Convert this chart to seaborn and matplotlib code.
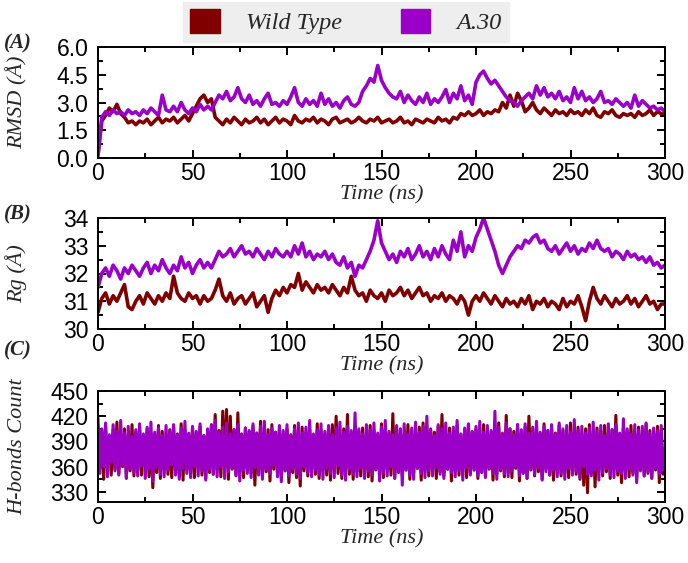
import numpy as np
import pandas as pd
import matplotlib
matplotlib.use("Agg")
import matplotlib.pyplot as plt
import seaborn as sns
from matplotlib.patches import Patch
from matplotlib.ticker import MultipleLocator, FormatStrFormatter

# ---------------- data ----------------
series_names = ["Wild Type", "A.30"]
colors = ["#800000", "#9b00c9"]

time_2ns = list(range(0, 301, 2))
time_1ns = list(range(0, 301, 1))

rmsd_wt = [
    0.2, 2.0, 2.3, 2.7, 2.5, 2.9, 2.4, 2.2, 1.9, 2.0,
    1.8, 2.0, 1.9, 2.1, 1.8, 2.0, 2.2, 1.9, 2.1, 2.0,
    2.2, 1.9, 2.1, 2.3, 2.0, 2.4, 2.8, 3.2, 3.4, 3.0,
    3.2, 2.2, 2.0, 1.8, 2.1, 1.9, 2.2, 2.0, 1.8, 2.1,
    1.9, 2.0, 2.2, 1.9, 2.1, 1.8, 2.0, 2.2, 1.9, 2.1,
    2.0, 1.8, 2.3, 2.0, 1.9, 2.1, 2.0, 2.2, 1.9, 2.1,
    2.0, 1.8, 2.1, 2.2, 1.9, 2.0, 2.1, 1.9, 2.0, 2.2,
    2.0, 1.9, 2.1, 2.0, 2.2, 1.9, 2.0, 2.1, 1.9, 2.0,
    2.2, 1.9, 2.0, 1.8, 2.1, 2.0, 1.9, 2.1, 2.0, 1.9,
    2.2, 2.0, 2.1, 1.9, 2.2, 2.1, 2.4, 2.3, 2.5, 2.3,
    2.4, 2.6, 2.3, 2.5, 2.4, 2.6, 2.5, 3.0, 2.7, 3.4,
    2.8, 3.5, 3.1, 2.5, 2.7, 3.0, 2.6, 2.4, 2.7, 2.5,
    2.3, 2.6, 2.4, 2.5, 2.3, 2.6, 2.4, 2.5, 2.3, 2.6,
    2.4, 2.7, 2.3, 2.2, 2.5, 2.4, 2.6, 2.3, 2.2, 2.4,
    2.3, 2.4, 2.2, 2.5, 2.3, 2.4, 2.6, 2.3, 2.5, 2.4,
    2.4,
]
rmsd_a30 = [
    0.1, 2.2, 2.5, 2.3, 2.6, 2.4, 2.5, 2.3, 2.6, 2.4,
    2.5, 2.3, 2.6, 2.4, 2.7, 2.5, 2.3, 3.4, 2.6, 2.5,
    2.8, 2.5, 3.0, 2.6, 2.4, 2.7, 2.5, 2.9, 2.6, 2.8,
    2.6, 3.0, 3.4, 3.2, 3.6, 3.1, 3.3, 3.8, 3.2, 3.0,
    3.4, 2.9, 3.1, 2.8, 3.2, 3.5, 2.9, 3.0, 2.8, 3.1,
    2.9, 3.3, 3.8, 3.0, 2.8, 3.2, 2.9, 3.1, 2.8, 3.5,
    2.9, 3.2, 2.8, 3.0, 2.7, 3.1, 3.3, 2.9, 2.8, 3.0,
    3.6, 3.9, 4.3, 4.1, 5.0, 4.2, 3.8, 3.5, 3.3, 3.2,
    3.6, 3.0, 3.4, 3.1, 2.9, 3.3, 3.0, 3.5, 2.9, 3.2,
    3.0, 3.3, 3.7, 3.0, 3.5, 3.2, 3.9, 3.1, 3.4, 2.9,
    4.1, 4.5, 4.7, 4.3, 4.0, 4.2, 3.9, 3.6, 3.3, 3.1,
    3.0, 2.8, 3.1, 3.3, 3.5, 3.2, 3.9, 3.4, 3.8, 3.3,
    3.5, 3.2, 3.6, 3.1, 3.3, 3.0, 3.8, 3.2, 3.6, 3.1,
    3.3, 3.0, 3.2, 3.6, 3.0, 3.1, 2.9, 3.2, 3.0, 2.8,
    3.0, 2.7, 3.4, 2.8, 3.1, 2.9, 2.7, 2.8, 2.6, 2.7,
    2.5,
]

rg_wt = [
    30.6, 31.1, 31.3, 30.9, 31.2, 31.0, 31.3, 31.6, 30.8, 30.7,
    31.0, 31.2, 30.9, 31.3, 31.1, 30.9, 31.2, 31.0, 31.3, 31.1,
    31.9, 31.3, 31.1, 31.0, 31.3, 31.1, 31.2, 30.9, 31.2, 31.0,
    31.1, 31.4, 31.8, 31.2, 31.0, 31.3, 30.9, 31.1, 31.2, 30.9,
    31.1, 31.3, 30.8, 31.0, 31.2, 30.6, 31.1, 31.4, 31.2, 31.5,
    31.3, 31.6, 31.5, 32.0, 31.4, 31.7, 31.5, 31.3, 31.6, 31.4,
    31.5, 31.3, 31.6, 31.4, 31.2, 31.5, 31.3, 31.9, 31.4, 31.2,
    31.3, 31.0, 31.4, 31.2, 31.1, 31.3, 31.0, 31.4, 31.2, 31.3,
    31.5, 31.2, 31.4, 31.1, 31.3, 31.5, 31.2, 31.3, 31.0, 31.2,
    31.1, 31.3, 31.0, 31.2, 31.1, 30.9, 31.2, 31.0, 30.5, 31.0,
    31.2, 31.0, 31.3, 31.1, 30.9, 31.2, 31.0, 30.8, 31.1, 30.9,
    31.0, 30.8, 31.1, 30.9, 31.2, 30.7, 31.0, 30.9, 31.1, 30.8,
    31.0, 30.9, 30.7, 31.1, 30.8, 31.0, 30.9, 31.2, 30.8, 30.3,
    31.0, 31.5, 31.1, 30.9, 31.2, 31.0, 30.8, 31.1, 30.9, 31.0,
    31.2, 30.9, 31.1, 30.8, 31.0, 31.2, 30.9, 31.0, 30.7, 30.9,
    30.9,
]
rg_a30 = [
    31.5, 32.0, 32.2, 31.9, 32.3, 32.1, 31.8, 32.2, 32.0, 32.3,
    32.1, 31.9, 32.2, 32.4, 32.0, 32.3, 32.1, 32.5, 32.2, 32.0,
    32.3, 32.1, 32.6, 32.2, 32.4, 32.0, 32.3, 32.5, 32.2, 32.4,
    32.2, 32.5, 32.8, 32.6, 32.7, 32.9, 32.6, 32.8, 33.0, 32.7,
    32.8, 32.6, 32.9, 32.7, 32.5, 32.8, 32.6, 32.9, 32.7, 32.6,
    32.8, 32.6, 33.0, 32.7, 33.1, 32.6, 32.8, 32.5, 32.7, 32.6,
    32.8, 32.5, 32.7, 32.4, 32.3, 32.6, 32.2, 32.4, 31.9, 32.3,
    32.2, 32.5, 32.8, 33.2, 33.9, 33.1, 32.8, 32.5, 32.7, 32.4,
    32.8, 32.6, 32.9, 32.5, 32.7, 33.0, 32.6, 32.8, 32.5, 32.9,
    32.6, 33.0, 32.7, 32.5, 33.2, 32.8, 33.5, 32.6, 33.0, 32.8,
    33.3, 33.6, 34.0, 33.6, 33.2, 32.8, 32.3, 32.0, 32.3, 32.6,
    32.8, 33.0, 32.9, 33.2, 33.1, 33.3, 33.4, 33.1, 33.2, 32.9,
    32.8, 33.0, 32.7, 32.9, 33.1, 32.8, 33.0, 32.7, 32.9, 32.8,
    33.1, 32.9, 33.2, 32.9, 32.8, 32.9, 32.6, 32.8, 32.7, 32.5,
    32.8, 32.6, 32.7, 32.5, 32.6, 32.4, 32.6, 32.3, 32.4, 32.2,
    32.3,
]

hb_wt = [
    410, 358, 402, 345, 408, 362, 396, 350, 404, 357, 413, 352, 399, 360, 405, 346, 398, 355, 410, 349,
    401, 356, 407, 350, 397, 361, 405, 348, 400, 335, 398, 353, 409, 346, 402, 358, 396, 351, 404, 347,
    407, 355, 399, 349, 411, 344, 403, 357, 398, 352, 406, 347, 400, 359, 408, 350, 397, 346, 404, 353,
    410, 351, 422, 356, 403, 348, 426, 359, 428, 345, 420, 357, 404, 350, 424, 354, 399, 347, 406, 358,
    402, 352, 408, 338, 400, 356, 414, 349, 397, 354, 404, 343, 410, 357, 401, 350, 406, 346, 399, 355,
    405, 341, 398, 353, 409, 347, 402, 337, 407, 355, 400, 349, 404, 358, 396, 351, 411, 346, 403, 356,
    399, 350, 406, 344, 410, 357, 420, 352, 400, 346, 405, 356, 422, 351, 398, 345, 408, 354, 402, 349,
    406, 355, 400, 348, 409, 343, 402, 356, 398, 351, 411, 347, 404, 357, 400, 350, 423, 346, 399, 353,
    405, 349, 398, 356, 410, 345, 403, 352, 400, 358, 407, 344, 412, 355, 399, 349, 405, 357, 401, 346,
    408, 354, 422, 349, 400, 357, 406, 343, 402, 355, 409, 350, 398, 358, 404, 347, 410, 352, 401, 356,
    405, 346, 399, 353, 410, 349, 403, 357, 400, 344, 407, 351, 412, 355, 398, 348, 421, 353, 405, 347,
    402, 358, 410, 343, 400, 352, 407, 346, 420, 356, 401, 349, 405, 354, 399, 345, 411, 357, 403, 350,
    406, 344, 400, 355, 409, 349, 403, 353, 398, 347, 412, 356, 401, 351, 407, 345, 400, 338, 405, 329,
    410, 352, 398, 336, 406, 356, 402, 349, 409, 354, 400, 346, 404, 357, 421, 350, 399, 341, 406, 355,
    402, 348, 409, 353, 400, 344, 407, 358, 398, 349, 411, 352, 403, 346, 400, 356, 408, 341, 404, 351,
    378,
]
hb_a30 = [
    418, 352, 405, 360, 412, 348, 398, 365, 410, 355, 402, 350, 415, 362, 400, 347, 408, 358, 396, 353,
    404, 349, 411, 361, 399, 346, 407, 357, 413, 343, 401, 359, 406, 351, 397, 348, 409, 356, 403, 362,
    410, 350, 398, 345, 406, 358, 414, 352, 400, 347, 408, 360, 402, 349, 411, 355, 397, 344, 405, 357,
    409, 351, 415, 348, 401, 360, 407, 346, 412, 354, 399, 358, 404, 349, 410, 343, 398, 356, 406, 352,
    403, 347, 411, 359, 400, 350, 408, 345, 414, 357, 398, 352, 406, 361, 401, 348, 409, 342, 403, 355,
    410, 349, 397, 357, 405, 351, 412, 346, 400, 360, 407, 353, 415, 348, 399, 356, 404, 350, 411, 345,
    402, 358, 409, 352, 398, 347, 406, 361, 413, 350, 401, 344, 408, 357, 403, 351, 424, 348, 405, 359,
    399, 346, 410, 355, 404, 350, 412, 357, 400, 343, 407, 353, 415, 349, 402, 360, 398, 347, 409, 354,
    404, 338, 411, 356, 399, 350, 406, 345, 413, 358, 401, 352, 408, 347, 420, 355, 403, 349, 397, 359,
    410, 351, 405, 346, 412, 357, 400, 353, 407, 348, 415, 355, 399, 344, 406, 359, 411, 350, 402, 356,
    408, 349, 414, 354, 401, 347, 409, 358, 403, 352, 426, 345, 407, 357, 400, 351, 412, 348, 405, 355,
    398, 360, 410, 349, 404, 353, 411, 346, 400, 357, 407, 351, 414, 359, 401, 344, 408, 354, 403, 350,
    410, 356, 399, 348, 412, 352, 405, 345, 409, 358, 401, 350, 416, 354, 403, 347, 408, 360, 400, 351,
    406, 349, 413, 356, 402, 344, 409, 353, 397, 358, 411, 350, 404, 347, 410, 355, 400, 352, 417, 346,
    405, 357, 399, 350, 410, 341, 403, 355, 408, 349, 412, 354, 400, 347, 406, 358, 402, 351, 409, 356,
    382,
]

# ---------------- style ----------------
sns.set_style("ticks")
plt.rcParams["font.family"] = ["Liberation Sans", "DejaVu Sans"]
plt.rcParams["axes.linewidth"] = 1.4
serif_it = dict(family=["Liberation Serif", "DejaVu Serif"], style="italic")

def long_df(t, a, b):
    return pd.DataFrame({
        "time": list(t) + list(t),
        "value": list(a) + list(b),
        "series": [series_names[0]] * len(a) + [series_names[1]] * len(b),
    })

fig = plt.figure(figsize=(6.88, 5.63), dpi=100)
L, W = 98 / 688, 567 / 688
panels = [
    dict(df=long_df(time_2ns, rmsd_wt, rmsd_a30), bottom=(563 - 158) / 563, ylim=(0, 6),
         ymaj=1.5, ymin=0.75, fmt="%.1f", ylabel="RMSD (Å)", tag="(A)", tagy=43, lw=2.6),
    dict(df=long_df(time_2ns, rg_wt, rg_a30), bottom=(563 - 329) / 563, ylim=(30, 34),
         ymaj=1, ymin=0.5, fmt="%d", ylabel="Rg (Å)", tag="(B)", tagy=214, lw=2.6),
    dict(df=long_df(time_1ns, hb_wt, hb_a30), bottom=(563 - 502) / 563, ylim=(318, 450),
         ymaj=30, ymin=15, fmt="%d", ylabel="H-bonds Count", tag="(C)", tagy=350, lw=2.2),
]
H = 111 / 563

for p in panels:
    ax = fig.add_axes([L, p["bottom"], W, H])
    sns.lineplot(data=p["df"], x="time", y="value", hue="series", palette=colors,
                 hue_order=series_names, linewidth=p["lw"], ax=ax, legend=False,
                 estimator=None, sort=False)
    ax.set_xlim(0, 300)
    ax.set_ylim(*p["ylim"])
    ax.xaxis.set_major_locator(MultipleLocator(50))
    ax.xaxis.set_minor_locator(MultipleLocator(25))
    ax.yaxis.set_major_locator(MultipleLocator(p["ymaj"]))
    ax.yaxis.set_minor_locator(MultipleLocator(p["ymin"]))
    ax.yaxis.set_major_formatter(FormatStrFormatter(p["fmt"]))
    ax.tick_params(which="both", direction="in", top=True, right=True, width=1.4,
                   labelsize=16.5, colors="black", pad=3)
    ax.tick_params(axis="y", which="major", pad=7)
    ax.tick_params(which="major", length=6)
    ax.tick_params(which="minor", length=3.5)
    ax.set_xlabel("Time (ns)", fontsize=16, labelpad=0, **serif_it)
    ax.set_ylabel(p["ylabel"], fontsize=16, **serif_it)
    ax.yaxis.set_label_coords(-0.125, 0.5)
    for s in ax.spines.values():
        s.set_visible(True)
        s.set_color("black")
    fig.text(4 / 688, 1 - p["tagy"] / 563, p["tag"], fontsize=15, fontweight="bold",
             va="center", ha="left", **serif_it)

handles = [Patch(facecolor=c, edgecolor=c) for c in colors]
leg = fig.legend(handles, series_names, loc="center", bbox_to_anchor=(0.503, 0.961),
                 ncol=2, frameon=True, fancybox=False, facecolor="#eeeeee",
                 edgecolor="#eeeeee", framealpha=1, prop=dict(size=17.5, **serif_it),
                 handlelength=1.2, handleheight=1.1, columnspacing=2.4, handletextpad=1.1,
                 borderpad=0.3, borderaxespad=0.2)

fig.savefig("out.png", dpi=100)
